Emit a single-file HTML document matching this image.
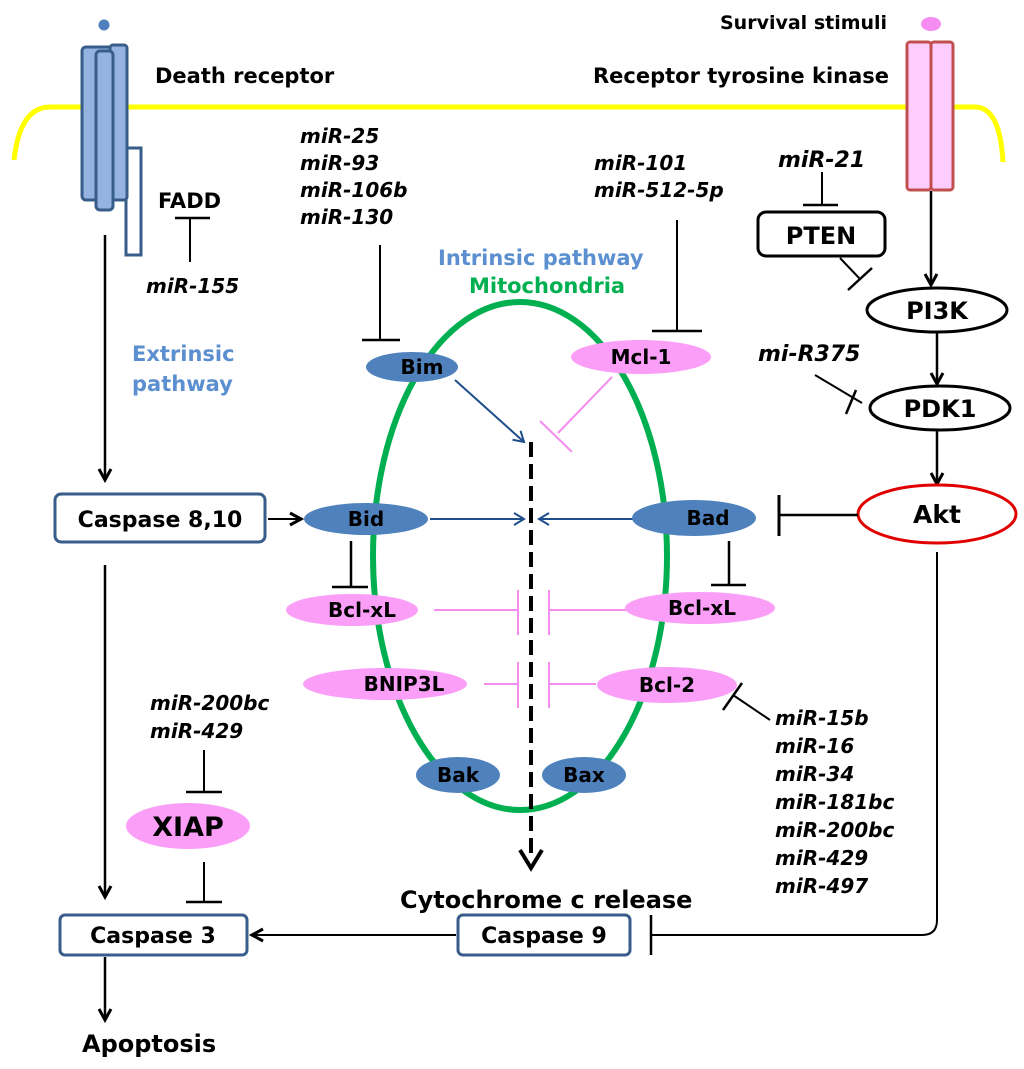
<!DOCTYPE html>
<html><head><meta charset="utf-8"><style>
body{margin:0;background:#fff}
svg{display:block}
text{font-family:"DejaVu Sans","Liberation Sans",sans-serif;font-weight:bold}
.mi{font-style:italic;font-size:20px}
</style></head><body>
<svg width="1024" height="1069" viewBox="0 0 1024 1069" xmlns="http://www.w3.org/2000/svg">
<defs>
<marker id="ab" markerWidth="14" markerHeight="14" refX="11" refY="7" orient="auto" markerUnits="userSpaceOnUse"><path d="M1,1 L11,7 L1,13" fill="none" stroke="#1f4e8c" stroke-width="2"/></marker>
<marker id="ak" markerWidth="16" markerHeight="16" refX="13" refY="8" orient="auto" markerUnits="userSpaceOnUse"><path d="M2,2 L13,8 L2,14" fill="none" stroke="#000" stroke-width="3"/></marker>
</defs>
<path d="M14,160 Q20,107 50,107 L975,107 Q1000,107 1003,162" fill="none" stroke="#ffff00" stroke-width="5"/>
<circle cx="104" cy="25" r="5.5" fill="#4f81bd"/>
<rect x="126" y="148" width="15" height="107" fill="#fff" stroke="#385d8a" stroke-width="3"/>
<rect x="82" y="47" width="33" height="153" rx="4" fill="#95b3e0" stroke="#385d8a" stroke-width="3"/>
<rect x="110" y="45" width="17" height="155" rx="3" fill="#95b3e0" stroke="#385d8a" stroke-width="3"/>
<rect x="96" y="51" width="17" height="159" rx="4" fill="#95b3e0" stroke="#385d8a" stroke-width="3"/>
<text x="155" y="83" font-size="21">Death receptor</text>
<ellipse cx="931" cy="24" rx="10" ry="7" fill="#f58cf0"/>
<rect x="907" y="42" width="24" height="148" rx="3" fill="#ffccff" stroke="#c0504d" stroke-width="3"/>
<rect x="931" y="42" width="22" height="148" rx="3" fill="#ffccff" stroke="#c0504d" stroke-width="3"/>
<text x="720" y="29" font-size="19">Survival stimuli</text>
<text x="593" y="83" font-size="21">Receptor tyrosine kinase</text>
<text x="158" y="208" font-size="21">FADD</text>
<line x1="190" y1="218" x2="190" y2="262" stroke="#000" stroke-width="2"/>
<line x1="175" y1="218" x2="210" y2="218" stroke="#000" stroke-width="2.5"/>
<text x="146" y="293" class="mi">miR-155</text>
<text x="132" y="361" font-size="21" fill="#5b8fd0">Extrinsic</text>
<text x="132" y="391" font-size="21" fill="#5b8fd0">pathway</text>
<line x1="105" y1="235" x2="105" y2="480" stroke="#000" stroke-width="2.5" marker-end="url(#ak)"/>
<text x="300" y="143" class="mi">miR-25</text>
<text x="300" y="170" class="mi">miR-93</text>
<text x="300" y="197" class="mi">miR-106b</text>
<text x="300" y="224" class="mi">miR-130</text>
<line x1="380" y1="245" x2="380" y2="340" stroke="#000" stroke-width="2"/>
<line x1="362" y1="340" x2="400" y2="340" stroke="#000" stroke-width="2.5"/>
<text x="594" y="170" class="mi">miR-101</text>
<text x="594" y="197" class="mi">miR-512-5p</text>
<line x1="677" y1="220" x2="677" y2="331" stroke="#000" stroke-width="2"/>
<line x1="652" y1="331" x2="702" y2="331" stroke="#000" stroke-width="2.5"/>
<text x="438" y="265" font-size="21" fill="#5b8fd0">Intrinsic pathway</text>
<text x="469" y="293" font-size="21" fill="#00b050">Mitochondria</text>
<ellipse cx="520" cy="556" rx="147" ry="254" fill="none" stroke="#00b050" stroke-width="6"/>
<line x1="531" y1="442" x2="531" y2="858" stroke="#000" stroke-width="4" stroke-dasharray="15,7"/>
<path d="M520,850 L531,868 L542,850" fill="none" stroke="#000" stroke-width="4"/>
<line x1="455" y1="380" x2="524" y2="442" stroke="#1f4e8c" stroke-width="2" marker-end="url(#ab)"/>
<line x1="430" y1="519" x2="524" y2="519" stroke="#1f4e8c" stroke-width="2" marker-end="url(#ab)"/>
<line x1="646" y1="519" x2="539" y2="519" stroke="#1f4e8c" stroke-width="2" marker-end="url(#ab)"/>
<g stroke="#f58cf0" stroke-width="2">
<line x1="612" y1="377" x2="558" y2="433"/><line x1="540" y1="421" x2="572" y2="452"/>
<line x1="434" y1="610" x2="518" y2="610"/><line x1="518" y1="590" x2="518" y2="635"/>
<line x1="628" y1="610" x2="549" y2="610"/><line x1="549" y1="590" x2="549" y2="635"/>
<line x1="484" y1="684" x2="518" y2="684"/><line x1="518" y1="662" x2="518" y2="708"/>
<line x1="596" y1="684" x2="549" y2="684"/><line x1="549" y1="662" x2="549" y2="708"/>
</g>
<g stroke="#000" stroke-width="2.5">
<line x1="351" y1="541" x2="351" y2="586"/><line x1="332" y1="587" x2="368" y2="587"/>
<line x1="729" y1="541" x2="729" y2="585"/><line x1="711" y1="585" x2="746" y2="585"/>
</g>
<g font-size="20" text-anchor="middle">
<ellipse cx="412" cy="367" rx="46" ry="15" fill="#4f81bd"/><text x="422" y="374">Bim</text>
<ellipse cx="641" cy="357" rx="70" ry="17" fill="#fa9ef8"/><text x="641" y="364">Mcl-1</text>
<ellipse cx="366" cy="519" rx="62" ry="16" fill="#4f81bd"/><text x="366" y="526">Bid</text>
<ellipse cx="694" cy="518" rx="62" ry="18" fill="#4f81bd"/><text x="708" y="525">Bad</text>
<ellipse cx="352" cy="610" rx="66" ry="16" fill="#fa9ef8"/><text x="362" y="617">Bcl-xL</text>
<ellipse cx="700" cy="608" rx="75" ry="16" fill="#fa9ef8"/><text x="702" y="615">Bcl-xL</text>
<ellipse cx="385" cy="684" rx="82" ry="16" fill="#fa9ef8"/><text x="404" y="691">BNIP3L</text>
<ellipse cx="667" cy="685" rx="70" ry="18" fill="#fa9ef8"/><text x="667" y="692">Bcl-2</text>
<ellipse cx="458" cy="775" rx="42" ry="18" fill="#4f81bd"/><text x="458" y="782">Bak</text>
<ellipse cx="584" cy="775" rx="42" ry="18" fill="#4f81bd"/><text x="584" y="782">Bax</text>
</g>
<text x="778" y="167" class="mi" font-size="22" style="font-size:22px">miR-21</text>
<line x1="822" y1="172" x2="822" y2="205" stroke="#000" stroke-width="2"/>
<line x1="803" y1="205" x2="838" y2="205" stroke="#000" stroke-width="2.5"/>
<rect x="758" y="212" width="127" height="44" rx="8" fill="#fff" stroke="#000" stroke-width="3"/>
<text x="821" y="244" font-size="24" text-anchor="middle">PTEN</text>
<line x1="840" y1="258" x2="860" y2="279" stroke="#000" stroke-width="2"/>
<line x1="848" y1="290" x2="872" y2="268" stroke="#000" stroke-width="2.5"/>
<line x1="931" y1="191" x2="931" y2="285" stroke="#000" stroke-width="2.5" marker-end="url(#ak)"/>
<ellipse cx="937" cy="310" rx="70" ry="22" fill="#fff" stroke="#000" stroke-width="3"/>
<text x="937" y="319" font-size="24" text-anchor="middle">PI3K</text>
<line x1="937" y1="333" x2="937" y2="384" stroke="#000" stroke-width="2.5" marker-end="url(#ak)"/>
<text x="758" y="361" class="mi" style="font-size:22px">mi-R375</text>
<line x1="815" y1="375" x2="862" y2="403" stroke="#000" stroke-width="2"/>
<line x1="856" y1="390" x2="846" y2="414" stroke="#000" stroke-width="2.5"/>
<ellipse cx="940" cy="408" rx="70" ry="22" fill="#fff" stroke="#000" stroke-width="3"/>
<text x="940" y="417" font-size="24" text-anchor="middle">PDK1</text>
<line x1="937" y1="431" x2="937" y2="484" stroke="#000" stroke-width="2.5" marker-end="url(#ak)"/>
<ellipse cx="937" cy="514" rx="79" ry="29" fill="#fff" stroke="#e00000" stroke-width="3"/>
<text x="937" y="523" font-size="25" text-anchor="middle">Akt</text>
<line x1="858" y1="515" x2="779" y2="515" stroke="#000" stroke-width="2.5"/>
<line x1="779" y1="495" x2="779" y2="536" stroke="#000" stroke-width="3"/>
<path d="M937,552 L937,920 Q937,935 922,935 L651,935" fill="none" stroke="#000" stroke-width="2"/>
<line x1="651" y1="915" x2="651" y2="955" stroke="#000" stroke-width="2.5"/>
<line x1="770" y1="720" x2="733" y2="695" stroke="#000" stroke-width="2"/>
<line x1="723" y1="710" x2="742" y2="683" stroke="#000" stroke-width="2.5"/>
<text x="775" y="725" class="mi">miR-15b</text>
<text x="775" y="753" class="mi">miR-16</text>
<text x="775" y="781" class="mi">miR-34</text>
<text x="775" y="809" class="mi">miR-181bc</text>
<text x="775" y="837" class="mi">miR-200bc</text>
<text x="775" y="865" class="mi">miR-429</text>
<text x="775" y="893" class="mi">miR-497</text>
<rect x="55" y="494" width="210" height="48" rx="6" fill="#fff" stroke="#385d8a" stroke-width="3"/>
<text x="160" y="527" font-size="22" text-anchor="middle">Caspase 8,10</text>
<line x1="268" y1="519" x2="301" y2="519" stroke="#000" stroke-width="2" marker-end="url(#ak)"/>
<line x1="105" y1="565" x2="105" y2="897" stroke="#000" stroke-width="2.5" marker-end="url(#ak)"/>
<text x="150" y="710" class="mi">miR-200bc</text>
<text x="150" y="738" class="mi">miR-429</text>
<line x1="204" y1="750" x2="204" y2="792" stroke="#000" stroke-width="2"/>
<line x1="186" y1="792" x2="222" y2="792" stroke="#000" stroke-width="2.5"/>
<ellipse cx="188" cy="826" rx="62" ry="23" fill="#fa9ef8"/>
<text x="188" y="836" font-size="27" text-anchor="middle">XIAP</text>
<line x1="204" y1="862" x2="204" y2="902" stroke="#000" stroke-width="2"/>
<line x1="186" y1="902" x2="222" y2="902" stroke="#000" stroke-width="2.5"/>
<rect x="60" y="915" width="187" height="40" rx="5" fill="#fff" stroke="#385d8a" stroke-width="3"/>
<text x="153" y="943" font-size="22" text-anchor="middle">Caspase 3</text>
<text x="400" y="908" font-size="24">Cytochrome c release</text>
<rect x="458" y="915" width="172" height="40" rx="5" fill="#fff" stroke="#385d8a" stroke-width="3"/>
<text x="544" y="943" font-size="22" text-anchor="middle">Caspase 9</text>
<line x1="456" y1="935" x2="252" y2="935" stroke="#000" stroke-width="2" marker-end="url(#ak)"/>
<line x1="105" y1="957" x2="105" y2="1020" stroke="#000" stroke-width="2.5" marker-end="url(#ak)"/>
<text x="82" y="1052" font-size="24">Apoptosis</text>
</svg>
</body></html>
